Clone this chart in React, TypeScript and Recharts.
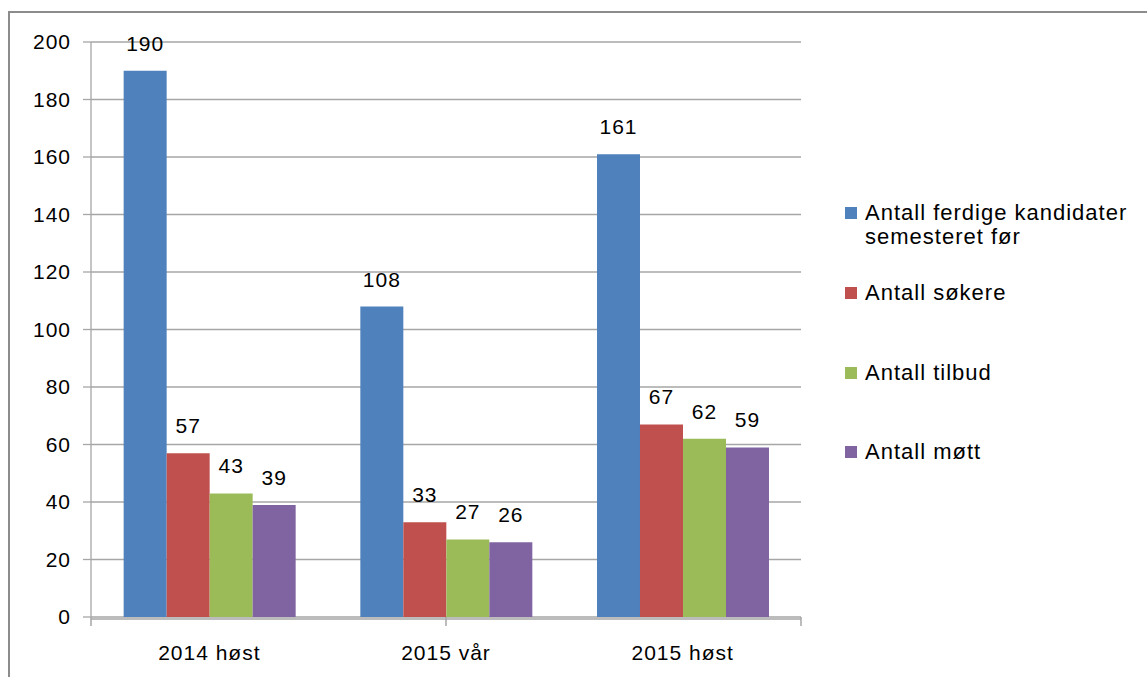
import React from "react";
import { BarChart, Bar, XAxis, YAxis, CartesianGrid, Legend, LabelList } from "recharts";

const categories = ["2014 høst", "2015 vår", "2015 høst"];
const ferdige = [190, 108, 161];
const sokere = [57, 33, 67];
const tilbud = [43, 27, 62];
const mott = [39, 26, 59];
const yTicks = [0, 20, 40, 60, 80, 100, 120, 140, 160, 180, 200];
const boundaryTicks = [0, 1, 2, 3];

const seriesNames = ["Antall ferdige kandidater semesteret før", "Antall søkere", "Antall tilbud", "Antall møtt"];
const colors = ["#4F81BD", "#C0504D", "#9BBB59", "#8064A2"];
const keys = ["ferdige", "sokere", "tilbud", "mott"];

const data = categories.map((c, i) => ({
  name: c,
  ferdige: ferdige[i],
  sokere: sokere[i],
  tilbud: tilbud[i],
  mott: mott[i],
}));

const FONT = "'Liberation Sans', Arial, sans-serif";

const LegendContent = () => {
  const tops = [0, 32, 56, 55];
  return (
    <div style={{ fontFamily: FONT, fontSize: 22, letterSpacing: 1, color: "#000" }}>
      {seriesNames.map((n, i) => {
        const lines = i === 0 ? ["Antall ferdige kandidater", "semesteret før"] : [n];
        return (
          <div key={n} style={{ display: "flex", alignItems: "flex-start", marginTop: tops[i] }}>
            <div style={{ width: 12, height: 12, background: colors[i], marginTop: 6, marginRight: 8, flexShrink: 0 }} />
            <div style={{ lineHeight: "24px", whiteSpace: "nowrap" }}>
              {lines.map((l) => (
                <div key={l}>{l}</div>
              ))}
            </div>
          </div>
        );
      })}
    </div>
  );
};

const textStyle = { fill: "#000", fontSize: 21, fontFamily: FONT, letterSpacing: 1 };
const EmptyTick = () => <g />;

export default function App() {
  return (
    <div style={{ position: "absolute", left: 0, top: 0, width: 1147, height: 677, overflow: "hidden", background: "#fff" }}>
      <div style={{ position: "absolute", left: 8, top: 11, width: 1300, height: 900, border: "2px solid #8C8C8C" }} />
      <div style={{ position: "absolute", left: 0, top: 0 }}>
        <BarChart
          width={1147}
          height={677}
          data={data}
          margin={{ top: 42, right: 46, bottom: 0, left: 0 }}
          barCategoryGap="13.8%"
          barGap={0}
        >
          <CartesianGrid vertical={false} stroke="#A6A6A6" strokeWidth={1.3} />
          <XAxis
            xAxisId="b"
            dataKey="name"
            height={58}
            tickLine={false}
            axisLine={{ stroke: "#A6A6A6", strokeWidth: 1.3 }}
            tick={textStyle}
            tickMargin={20}
          />
          <XAxis
            xAxisId="a"
            type="number"
            domain={[0, 3]}
            ticks={boundaryTicks}
            interval={0}
            tick={EmptyTick}
            tickSize={9}
            height={2}
            axisLine={false}
            tickLine={{ stroke: "#A6A6A6", strokeWidth: 1.5 }}
          />
          <YAxis
            width={91}
            domain={[0, 200]}
            ticks={yTicks}
            interval={0}
            tickSize={8}
            tickMargin={12}
            axisLine={{ stroke: "#A6A6A6", strokeWidth: 1.3 }}
            tickLine={{ stroke: "#A6A6A6", strokeWidth: 1.3 }}
            tick={textStyle}
          />
          <Legend
            layout="vertical"
            verticalAlign="top"
            align="right"
            content={<LegendContent />}
            wrapperStyle={{ position: "absolute", left: 845, top: 201, width: 300 }}
          />
          {keys.map((k, i) => (
            <Bar key={k} xAxisId="b" dataKey={k} name={seriesNames[i]} fill={colors[i]} isAnimationActive={false}>
              <LabelList dataKey={k} position="top" offset={20} {...textStyle} />
            </Bar>
          ))}
        </BarChart>
      </div>
    </div>
  );
}
